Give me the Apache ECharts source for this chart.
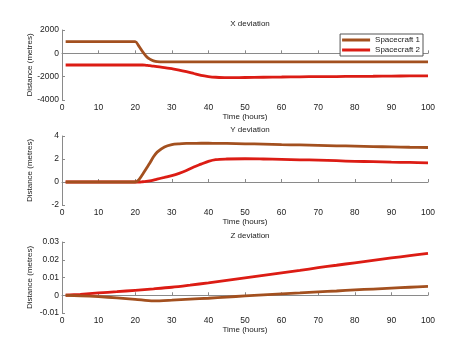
<!DOCTYPE html>
<html>
<head>
<meta charset="utf-8">
<script src="https://cdn.jsdelivr.net/npm/echarts@6/dist/echarts.min.js"></script>
<style>html,body{margin:0;padding:0;background:#fff}#c{width:474px;height:355px}</style>
</head>
<body>
<div id="c"></div>
<script>
var seriesNames = ['Spacecraft 1', 'Spacecraft 2'];
var panelTitles = ['X deviation', 'Y deviation', 'Z deviation'];
var xTickLabels = [0, 10, 20, 30, 40, 50, 60, 70, 80, 90, 100];

var times = [1, 5, 10, 15, 20, 21, 22, 23, 24, 25, 26, 28, 30, 32, 34, 36, 38, 40, 42, 45, 50, 55, 60, 65, 70, 75, 80, 85, 90, 95, 100];
var xDev1 = [1000, 1000, 1000, 1000, 1000, 620, 150, -250, -500, -640, -710, -730, -730, -730, -730, -730, -730, -730, -730, -730, -730, -730, -730, -730, -730, -730, -735, -735, -735, -735, -735];
var xDev2 = [-1000, -1000, -1000, -1000, -1000, -1000, -1000, -1030, -1060, -1100, -1140, -1220, -1320, -1430, -1570, -1730, -1890, -1990, -2050, -2090, -2070, -2050, -2030, -2010, -2000, -1990, -1975, -1965, -1950, -1940, -1930];
var yDev1 = [0, 0, 0, 0, 0, 0.2, 0.65, 1.15, 1.65, 2.2, 2.6, 3.05, 3.25, 3.32, 3.35, 3.36, 3.37, 3.37, 3.36, 3.35, 3.32, 3.3, 3.25, 3.22, 3.19, 3.15, 3.12, 3.08, 3.05, 3.02, 3.0];
var yDev2 = [0, 0, 0, 0, 0, 0, 0.02, 0.05, 0.1, 0.17, 0.25, 0.4, 0.55, 0.75, 1.0, 1.3, 1.55, 1.8, 1.95, 2.0, 2.02, 2.0, 1.97, 1.93, 1.9, 1.85, 1.8, 1.77, 1.73, 1.7, 1.66];

var zTimes = [1, 5, 10, 15, 20, 25, 30, 35, 40, 45, 50, 55, 60, 65, 70, 75, 80, 85, 90, 95, 100];
var zDev1 = [0, -0.0003, -0.0008, -0.0015, -0.0023, -0.0032, -0.0028, -0.0022, -0.0017, -0.001, -0.0004, 0.0002, 0.0008, 0.0013, 0.0019, 0.0024, 0.003, 0.0035, 0.004, 0.0045, 0.005];
var zDev2 = [0, 0.0005, 0.0013, 0.002, 0.0028, 0.0036, 0.0045, 0.0057, 0.007, 0.0084, 0.0098, 0.0112, 0.0126, 0.014, 0.0155, 0.0169, 0.0183, 0.0197, 0.021, 0.0223, 0.0236];

var yRanges = [[-4000, 2000, 2000], [-2, 4, 2], [-0.01, 0.03, 0.01]];
var colors = ['#a3501f', '#dc1c14'];

function pairs(t, v) { return t.map(function (x, i) { return [x, v[i]]; }); }

var grids = [
  {left: 62, right: 46, top: 30, height: 70},
  {left: 62, right: 46, top: 136, height: 69},
  {left: 62, right: 46, top: 242, height: 71}
];
var font = 'Liberation Sans, Arial, sans-serif';
var axisLineStyle = {color: '#8a8a8a', width: 1};

var xAxes = grids.map(function (g, i) {
  return {
    type: 'value', gridIndex: i, min: xTickLabels[0], max: xTickLabels[xTickLabels.length - 1], interval: 10,
    name: 'Time (hours)', nameLocation: 'middle', nameGap: 13, nameMoveOverlap: false,
    nameTextStyle: {fontFamily: font, fontSize: 8, color: '#222'},
    axisLine: {lineStyle: axisLineStyle},
    axisTick: {inside: true, length: 3, lineStyle: axisLineStyle},
    axisLabel: {fontFamily: font, fontSize: 8.5, color: '#222', margin: 3},
    splitLine: {show: false}
  };
});
var yAxes = grids.map(function (g, i) {
  return {
    type: 'value', gridIndex: i, min: yRanges[i][0], max: yRanges[i][1], interval: yRanges[i][2],
    name: 'Distance (metres)', nameLocation: 'middle', nameGap: 28, nameMoveOverlap: false,
    nameTextStyle: {fontFamily: font, fontSize: 8, color: '#222'},
    axisLine: {show: true, lineStyle: axisLineStyle},
    axisTick: {show: true, inside: true, length: 3, lineStyle: axisLineStyle},
    axisLabel: {fontFamily: font, fontSize: 8.5, color: '#222', margin: 3,
      formatter: function (v) { return String(+v.toFixed(4)); }},
    splitLine: {show: false}
  };
});

var data = [[xDev1, xDev2, times], [yDev1, yDev2, times], [zDev1, zDev2, zTimes]];
var series = [];
data.forEach(function (d, i) {
  [0, 1].forEach(function (k) {
    series.push({
      type: 'line', name: seriesNames[k], xAxisIndex: i, yAxisIndex: i,
      data: pairs(d[2], d[k]), smooth: 0.3, showSymbol: false, symbol: 'none',
      lineStyle: {color: colors[k], width: 2.8}, itemStyle: {color: colors[k]},
      z: k === 0 ? 3 : 2
    });
  });
});

var titleTops = [15, 121, 227];
var titles = panelTitles.map(function (t, i) {
  return {text: t, left: 245, top: titleTops[i], textAlign: 'center',
    textStyle: {fontFamily: font, fontSize: 8, fontWeight: 'normal', color: '#222'}};
});

var chart = echarts.init(document.getElementById('c'), null, {renderer: 'canvas'});
chart.setOption({
  backgroundColor: '#fff',
  animation: false,
  title: titles,
  grid: grids,
  xAxis: xAxes,
  yAxis: yAxes,
  legend: {
    data: seriesNames, orient: 'vertical', right: 51, top: 34,
    borderColor: '#555', borderWidth: 1, borderRadius: 0, padding: [2, 3, 2, 2],
    itemGap: 2, itemWidth: 28, itemHeight: 3, icon: 'rect',
    textStyle: {fontFamily: font, fontSize: 8, color: '#222', padding: [0, 0, 0, 0]},
    backgroundColor: '#fff'
  },
  series: series
});
</script>
</body>
</html>
